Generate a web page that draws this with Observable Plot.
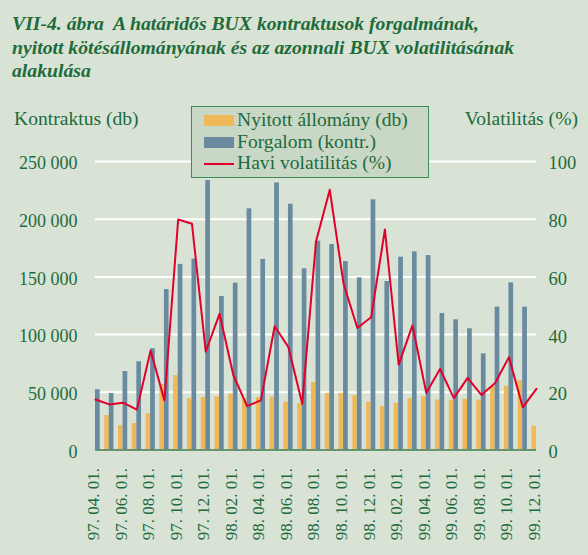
<!DOCTYPE html>
<html><head><meta charset="utf-8">
<script src="https://cdn.jsdelivr.net/npm/d3@7"></script>
<script src="https://cdn.jsdelivr.net/npm/@observablehq/plot@0.6"></script>
<style>
html,body{margin:0;padding:0;background:#d8e3d6;}
#wrap{position:relative;width:588px;height:555px;background:#d8e3d6;font-family:"Liberation Serif","DejaVu Serif",serif;color:#1e6b3b;overflow:hidden;}
#title{height:95px;box-sizing:border-box;padding:12px 0 0 12px;font-weight:bold;font-style:italic;font-size:19.7px;line-height:23.5px;color:#1e6b3b;}
.atitle{position:absolute;top:109px;font-size:19.6px;line-height:20px;}
#legend{position:absolute;left:191px;top:106px;width:236px;height:70px;border:1.5px solid #3f8b58;background:#c9d8c6;font-size:19.6px;}
.li{position:absolute;left:12px;height:20px;line-height:20px;white-space:nowrap;}
.sw{display:inline-block;width:30px;height:11px;vertical-align:middle;margin-right:3px;position:relative;top:-1px;}
.ln{display:inline-block;width:30px;height:2px;vertical-align:middle;margin-right:3px;background:#e2002b;position:relative;top:-1px;}
#chart svg{display:block;}
</style></head>
<body>
<div id="wrap">
  <div id="title">VII-4. ábra&nbsp; A határidős BUX kontraktusok forgalmának,<br>nyitott kötésállományának és az azonnali BUX volatilitásának<br>alakulása</div>
  <div id="chart"></div>
  <div class="atitle" style="left:14px;">Kontraktus (db)</div>
  <div class="atitle" style="right:10px;">Volatilitás (%)</div>
  <div id="legend"></div>
</div>
<script>
const months = ["97.04","97.05","97.06","97.07","97.08","97.09","97.10","97.11","97.12",
  "98.01","98.02","98.03","98.04","98.05","98.06","98.07","98.08","98.09","98.10","98.11","98.12",
  "99.01","99.02","99.03","99.04","99.05","99.06","99.07","99.08","99.09","99.10","99.11","99.12"];
const nyitott = [null,29900,21200,23000,31300,56700,64500,44600,45500,
  46100,48400,44600,45500,45900,41400,40300,58500,49000,49000,47000,41400,
  37700,40600,44600,46100,43200,43200,44000,43200,55000,55300,60200,20600];
const forgalom = [52200,49000,68000,76400,87700,139000,160800,165400,233500,
  133000,144600,209000,165100,231500,213000,157000,181000,178100,163300,149200,216800,
  146000,167100,171700,168500,118300,112800,105000,83300,123800,144900,123800,null];
const volatilitas = [17.5,15.8,16.4,14.0,34.5,17.2,79.9,78.4,34.1,
  47.2,26.0,15.2,17.2,42.9,35.6,16.0,72.3,90.2,57.6,42.3,46.0,
  76.4,29.6,43.2,19.8,28.1,18.0,25.0,19.1,23.2,32.2,14.8,21.2];
const tickLabels = ["97. 04. 01.","97. 06. 01.","97. 08. 01.","97. 10. 01.","97. 12. 01.",
  "98. 02. 01.","98. 04. 01.","98. 06. 01.","98. 08. 01.","98. 10. 01.","98. 12. 01.",
  "99. 02. 01.","99. 04. 01.","99. 06. 01.","99. 08. 01.","99. 10. 01.","99. 12. 01."];
const leftTicks = [0,50000,100000,150000,200000,250000];
const rightTicks = [0,20,40,60,80,100];
const seriesNames = ["Nyitott állomány (db)","Forgalom (kontr.)","Havi volatilitás (%)"];

const C = {orange:"#efb95a", blue:"#6a8aa0", red:"#e2002b", green:"#1e6b3b", axis:"#3f7d4f"};
const volToY = 250000/100;
const data = months.map((m,i)=>({i, m, ny:nyitott[i], fo:forgalom[i], vol:volatilitas[i]}));
const fmt = d => d===0 ? "0" : d3.format(",")(d).replace(/,/g," ");

const chart = Plot.plot({
  width:588, height:460,
  marginLeft:95, marginRight:52, marginTop:66, marginBottom:105.5,
  style:{fontFamily:"'Liberation Serif', serif", fontSize:"18px", color:C.green, background:"transparent", overflow:"visible"},
  x:{type:"linear", domain:[0, months.length-1]},
  y:{domain:[0,250000]},
  marks:[
    Plot.ruleY(leftTicks.filter(d=>d>0), {stroke:"white", strokeWidth:2}),
    Plot.rectY(data.filter(d=>d.ny!=null), {x1:d=>d.i-0.33, x2:d=>d.i, y:"ny", fill:C.orange, clip:true}),
    Plot.rectY(data.filter(d=>d.fo!=null), {x1:d=>d.i, x2:d=>d.i+0.34, y:"fo", fill:C.blue, clip:true}),
    Plot.ruleY([0], {stroke:C.axis, strokeWidth:1.5}),
    Plot.line(data, {x:"i", y:d=>d.vol*volToY, stroke:C.red, strokeWidth:2}),
    Plot.axisY({ticks:leftTicks, tickFormat:fmt, tickSize:0, tickPadding:18, label:null, fill:C.green, dy:2}),
    Plot.axisY({anchor:"right", ticks:rightTicks.map(v=>v*volToY), tickFormat:d=>String(d/volToY), tickSize:0, tickPadding:12, label:null, fill:C.green, dy:2, fontSize:18.5}),
    Plot.axisX({ticks:d3.range(0, months.length, 2), tickFormat:i=>tickLabels[i/2], tickRotate:-90, tickSize:0, tickPadding:18, label:null, fill:C.green, fontSize:17, dx:-2})
  ]
});
document.getElementById("chart").appendChild(chart);

const lg = document.getElementById("legend");
const kinds = [["sw",C.orange],["sw",C.blue],["ln",C.red]];
seriesNames.forEach((n,k)=>{
  const row = document.createElement("div");
  row.className="li";
  row.style.top = (3 + k*21.5) + "px";
  const s = document.createElement("span");
  s.className = kinds[k][0];
  if(kinds[k][0]==="sw") s.style.background = kinds[k][1];
  row.appendChild(s);
  row.appendChild(document.createTextNode(n));
  lg.appendChild(row);
});
</script>
</body></html>
